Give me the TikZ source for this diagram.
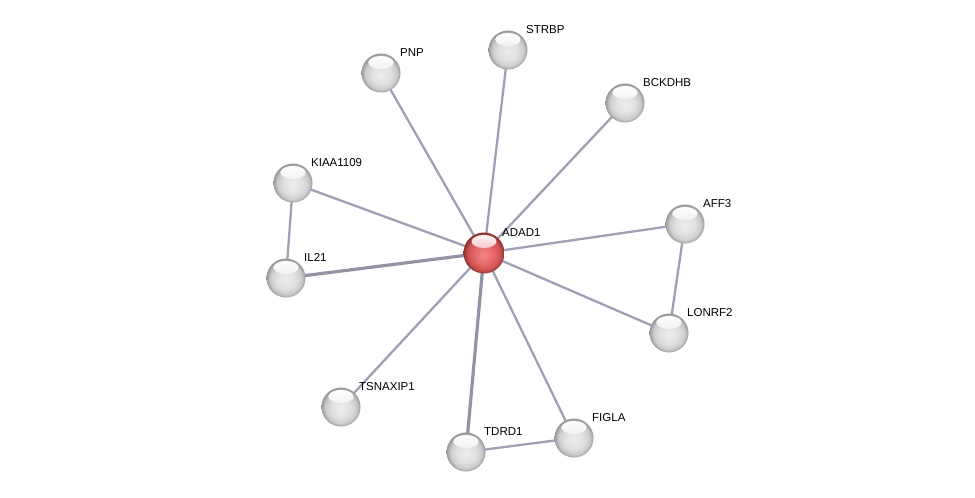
\documentclass[tikz,border=0pt]{standalone}
\usepackage{fontspec}
\setmainfont{Liberation Sans}
\usetikzlibrary{backgrounds}
\pgfdeclareradialshading{greyball}{\pgfpoint{0bp}{-3bp}}{color(0bp)=(white!93!black); color(12bp)=(white!88!black); color(20bp)=(white!80!black); color(25bp)=(white!60!black); color(30bp)=(white!55!black)}
\pgfdeclareradialshading{redball}{\pgfpoint{0bp}{-3bp}}{color(0bp)=(red!45!white!95!black); color(12bp)=(red!55!white!90!black); color(20bp)=(red!60!white!80!black); color(25bp)=(red!65!white!55!black); color(30bp)=(red!60!black)}
\definecolor{edgecol}{RGB}{160,160,180}
\tikzset{
  ballnode/.style={circle, inner sep=0pt, path picture={
      \shade[top color=white, bottom color=#1]
        (path picture bounding box.north) ++(0,-9pt) ellipse [x radius=12.5pt, y radius=6.5pt];}},
  prot/.style={ballnode=white!88!black, minimum size=39pt, shading=greyball},
  hub/.style={ballnode=red!55!white!90!black, minimum size=41pt, shading=redball},
  lab/.style={anchor=base west, font=\fontsize{11.5}{13}\selectfont, inner sep=0pt, text=black},
  edge/.style={draw=edgecol, line width=2.3pt},
  thick edge/.style={draw=edgecol!92!black, line width=3.2pt}
}
\begin{document}
\begin{tikzpicture}[x=1pt,y=-1pt]
\useasboundingbox (0,0) rectangle (975,498);
\node[hub]  (adad1) at (484,253) {};
\node[prot] (pnp) at (381,73) {};
\node[prot] (strbp) at (508,50) {};
\node[prot] (bckdhb) at (625,103) {};
\node[prot] (kiaa) at (293,183) {};
\node[prot] (il21) at (286,278) {};
\node[prot] (aff3) at (685,224) {};
\node[prot] (lonrf2) at (669,333) {};
\node[prot] (tsnaxip1) at (341,407) {};
\node[prot] (tdrd1) at (466,452) {};
\node[prot] (figla) at (574,438) {};
\node[lab] (ladad1) at (502,236) {ADAD1};
\node[lab] (lpnp) at (400,56) {PNP};
\node[lab] (lstrbp) at (526,33) {STRBP};
\node[lab] (lbckdhb) at (643,86) {BCKDHB};
\node[lab] (lkiaa) at (311,166) {KIAA1109};
\node[lab] (lil21) at (304,261) {IL21};
\node[lab] (laff3) at (703,207) {AFF3};
\node[lab] (llonrf2) at (687,316) {LONRF2};
\node[lab] (ltsnaxip1) at (359,390) {TSNAXIP1};
\node[lab] (ltdrd1) at (484,435) {TDRD1};
\node[lab] (lfigla) at (592,421) {FIGLA};
\begin{scope}[on background layer]
\fill[white] (0,0) rectangle (975,498);
\draw[edge] (adad1.center) -- (pnp.center);
\draw[edge] (adad1.center) -- (strbp.center);
\draw[edge] (adad1.center) -- (bckdhb.center);
\draw[edge] (adad1.center) -- (kiaa.center);
\draw[thick edge] (adad1.center) -- (il21.center);
\draw[edge] (adad1.center) -- (aff3.center);
\draw[edge] (adad1.center) -- (lonrf2.center);
\draw[edge] (adad1.center) -- (tsnaxip1.center);
\draw[thick edge] (adad1.center) -- (tdrd1.center);
\draw[edge] (adad1.center) -- (figla.center);
\draw[edge] (kiaa.center) -- (il21.center);
\draw[edge] (aff3.center) -- (lonrf2.center);
\draw[edge] (tdrd1.center) -- (figla.center);
\end{scope}
\end{tikzpicture}
\end{document}
